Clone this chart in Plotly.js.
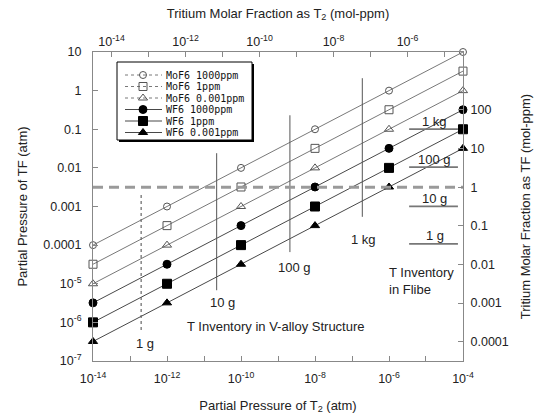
<!DOCTYPE html>
<html>
<head>
<meta charset="utf-8">
<script src="https://cdn.plot.ly/plotly-3.0.1.min.js"></script>
<style>html,body{margin:0;padding:0;background:#fff;}#chart{width:540px;height:418px;}</style>
</head>
<body>
<div id="chart"></div>
<script>
// ---- data ----
const pressureT2 = [1e-14, 1e-12, 1e-10, 1e-8, 1e-6, 1e-4];          // atm
const seriesNames = ['MoF6 1000ppm', 'MoF6 1ppm', 'MoF6 0.001ppm', 'WF6 1000ppm', 'WF6 1ppm', 'WF6 0.001ppm'];
const mof6_1000ppm = [1e-4, 1e-3, 1e-2, 1e-1, 1, 10];
const mof6_1ppm    = [3.2e-5, 3.2e-4, 3.2e-3, 3.2e-2, 0.32, 3.2];
const mof6_0001ppm = [1e-5, 1e-4, 1e-3, 1e-2, 0.1, 1];
const wf6_1000ppm  = [3.2e-6, 3.2e-5, 3.2e-4, 3.2e-3, 0.032, 0.32];
const wf6_1ppm     = [1e-6, 1e-5, 1e-4, 1e-3, 1e-2, 0.1];
const wf6_0001ppm  = [3.2e-7, 3.2e-6, 3.2e-5, 3.2e-4, 3.2e-3, 0.032];

// T inventory in V-alloy structure (vertical markers)
const vInvLabels = ['1 g', '10 g', '100 g', '1 kg'];
const vInvX      = [2.0e-13, 2.2e-11, 2.1e-9, 1.9e-7];
const vInvYTop   = [2.3e-3, 2.4e-2, 0.23, 2.1];
const vInvYBot   = [6.3e-7, 6.8e-6, 6.6e-5, 5.4e-4];

// T inventory in Flibe (horizontal markers, right axis)
const flibeLabels = ['1 kg', '100 g', '10 g', '1 g'];
const flibeLevels = [32, 3.3, 0.32, 0.034];
const flibeXRange = [3.5e-6, 7.3e-5];

// dashed limit (right axis, mol-ppm)
const limitLevel = 1;
const limitXRange = [1e-14, 1e-4];

// tick labels
const bottomTickVals = [1e-14,1e-12,1e-10,1e-8,1e-6,1e-4];
const bottomTickText = ['10<sup>-14</sup>','10<sup>-12</sup>','10<sup>-10</sup>','10<sup>-8</sup>','10<sup>-6</sup>','10<sup>-4</sup>'];
const bottomMinorVals = [1e-13,1e-11,1e-9,1e-7,1e-5];
const topTickVals = [1e-14,1e-12,1e-10,1e-8,1e-6];
const topTickText = ['10<sup>-14</sup>','10<sup>-12</sup>','10<sup>-10</sup>','10<sup>-8</sup>','10<sup>-6</sup>'];
const topMinorVals = [1e-13,1e-11,1e-9,1e-7,1e-5];
const leftTickVals = [10,1,0.1,0.01,0.001,1e-4,1e-5,1e-6,1e-7];
const leftTickText = ['10','1','0.1','0.01','0.001','0.0001','10<sup>-5</sup>','10<sup>-6</sup>','10<sup>-7</sup>'];
const rightTickVals = [100,10,1,0.1,0.01,0.001,1e-4];
const rightTickText = ['100','10','1','0.1','0.01','0.001','0.0001'];

// ---- styles ----
const seriesValues = [mof6_1000ppm, mof6_1ppm, mof6_0001ppm, wf6_1000ppm, wf6_1ppm, wf6_0001ppm];
const seriesStyle = [
  {symbol:'circle-open',        size:7, color:'#555', line:'#555', lw:0.8},
  {symbol:'square-open',        size:8, color:'#555', line:'#555', lw:0.8},
  {symbol:'triangle-up-open',   size:8, color:'#555', line:'#555', lw:0.8},
  {symbol:'circle',             size:8, color:'#000', line:'#333', lw:0.9},
  {symbol:'square',             size:9, color:'#000', line:'#333', lw:0.9},
  {symbol:'triangle-up',        size:8, color:'#000', line:'#333', lw:0.9}
];

// plot area in pixels (used for layout-only helpers)
const PL = 93, PR = 463, PT = 52, PB = 361;
const paperX = px => (px - PL) / (PR - PL);
const paperY = py => (PB - py) / (PB - PT);

const traces = [];

// main series
seriesValues.forEach((vals, i) => {
  const s = seriesStyle[i];
  traces.push({
    type:'scatter', mode:'lines+markers', name:seriesNames[i],
    x:pressureT2, y:vals, xaxis:'x', yaxis:'y',
    line:{color:s.line, width:s.lw},
    marker:{symbol:s.symbol, size:s.size, color:s.color, line:{color:s.color, width:1}},
    hoverinfo:'x+y+name', cliponaxis:false
  });
});

// vertical inventory lines
vInvLabels.forEach((lab, i) => {
  traces.push({
    type:'scatter', mode:'lines', name:'V-alloy '+lab,
    x:[vInvX[i], vInvX[i]], y:[vInvYBot[i], vInvYTop[i]], xaxis:'x', yaxis:'y',
    line:{color: i === 0 ? '#666' : '#555', width: i === 0 ? 1.2 : 1, dash: i === 0 ? 'dot' : 'solid'},
    hoverinfo:'skip'
  });
});

// dashed limit line on right axis
traces.push({
  type:'scatter', mode:'lines', name:'limit',
  x:limitXRange, y:[limitLevel, limitLevel], xaxis:'x', yaxis:'y2',
  line:{color:'#9a9a9a', width:3, dash:'10px,6px'}, hoverinfo:'skip'
});

// Flibe lines on right axis
flibeLabels.forEach((lab, i) => {
  traces.push({
    type:'scatter', mode:'lines', name:'Flibe '+lab,
    x:flibeXRange, y:[flibeLevels[i], flibeLevels[i]], xaxis:'x', yaxis:'y2',
    line:{color:'#777', width:1.8}, hoverinfo:'skip'
  });
});

// helper so the top axis gets drawn
traces.push({
  type:'scatter', mode:'markers', name:'top axis',
  x:topTickVals, y:topTickVals.map(() => 1), xaxis:'x2', yaxis:'y',
  marker:{opacity:0, size:1}, hoverinfo:'skip'
});

// custom legend samples on a pixel-space overlay axis
const legX0 = 125, legX1 = 162, legXM = 143, legText = 164;
const legRowY = [75, 86.5, 98, 109.5, 121, 132.5];
seriesNames.forEach((nm, i) => {
  const s = seriesStyle[i];
  traces.push({
    type:'scatter', mode:'lines', x:[legX0, legX1], y:[legRowY[i], legRowY[i]],
    xaxis:'x3', yaxis:'y3', line:{color:s.line, width:s.lw, dash: i < 3 ? 'dot' : 'solid'},
    hoverinfo:'skip', showlegend:false
  });
  traces.push({
    type:'scatter', mode:'markers', x:[legXM], y:[legRowY[i]],
    xaxis:'x3', yaxis:'y3',
    marker:{symbol:s.symbol, size:s.size, color:s.color, line:{color:s.color, width:1}},
    hoverinfo:'skip', showlegend:false
  });
});

const annotations = [];
// legend texts
seriesNames.forEach((nm, i) => {
  annotations.push({xref:'x3', yref:'y3', x:legText, y:legRowY[i], text:nm, showarrow:false,
    xanchor:'left', yanchor:'middle', font:{family:'DejaVu Sans Mono, monospace', size:10, color:'#111'}});
});
// vertical inventory labels
const vShiftY = [-13, -12, -15, -23];
const vShiftX = [4, 6, 5, 1];
vInvLabels.forEach((lab, i) => {
  annotations.push({xref:'x', yref:'y', x:Math.log10(vInvX[i]), y:Math.log10(vInvYBot[i]), text:lab,
    showarrow:false, xanchor:'center', yanchor:'middle', yshift:vShiftY[i], xshift:vShiftX[i],
    font:{size:13, color:'#222'}});
});
// Flibe labels
flibeLabels.forEach((lab, i) => {
  annotations.push({xref:'x', yref:'y2', x:(Math.log10(flibeXRange[0]) + Math.log10(flibeXRange[1])) / 2,
    y:Math.log10(flibeLevels[i]), text:lab, showarrow:false, xanchor:'center', yanchor:'middle',
    yshift:8, xshift:1, font:{size:13, color:'#222'}});
});
annotations.push({xref:'paper', yref:'paper', x:paperX(276), y:paperY(326), text:'T Inventory in V-alloy Structure',
  showarrow:false, xanchor:'center', yanchor:'middle', font:{size:13, color:'#222'}});
annotations.push({xref:'paper', yref:'paper', x:paperX(387), y:paperY(281), text:'T Inventory<br>in Flibe',
  showarrow:false, xanchor:'left', yanchor:'middle', align:'left', font:{size:13, color:'#222'}});

const axisCommon = {
  showgrid:false, zeroline:false, showline:true, linecolor:'#888', linewidth:1,
  ticks:'inside', ticklen:5, tickcolor:'#888', tickwidth:1,
  tickfont:{size:12.5, color:'#222'}
};
const minorCommon = {ticks:'inside', ticklen:5, tickcolor:'#888', tickwidth:1, showgrid:false, tickmode:'array'};

const layout = {
  width:540, height:418,
  margin:{l:PL, r:540-PR, t:PT, b:418-PB, pad:0},
  paper_bgcolor:'#fff', plot_bgcolor:'#fff',
  showlegend:false,
  font:{family:'Liberation Sans, Arial, sans-serif', size:12, color:'#222'},
  xaxis:Object.assign({}, axisCommon, {
    type:'log', range:[-14.0002, -3.9998], tickmode:'array', tickvals:bottomTickVals, ticktext:bottomTickText,
    minor:Object.assign({}, minorCommon, {tickvals:bottomMinorVals}),
    ticklabelstandoff:6,
    title:{text:'Partial Pressure of T<sub>2</sub> (atm)', font:{size:13, color:'#222'}, standoff:15}
  }),
  yaxis:Object.assign({}, axisCommon, {
    type:'log', range:[-7.0002, 1.0002], tickmode:'array', tickvals:leftTickVals, ticktext:leftTickText,
    ticklabelstandoff:8,
    title:{text:'Partial Pressure of TF (atm)', font:{size:13, color:'#222'}, standoff:12}
  }),
  xaxis2:Object.assign({}, axisCommon, {
    type:'log', range:[-14.5, -4.5], overlaying:'x', side:'top', anchor:'y',
    tickmode:'array', tickvals:topTickVals, ticktext:topTickText,
    minor:Object.assign({}, minorCommon, {tickvals:topMinorVals}),
    title:{text:'Tritium Molar Fraction as T<sub>2</sub> (mol-ppm)', font:{size:13, color:'#222'}, standoff:11}
  }),
  yaxis2:Object.assign({}, axisCommon, {
    type:'log', range:[-4.5, 3.5], overlaying:'y', side:'right', anchor:'x',
    tickmode:'array', tickvals:rightTickVals, ticktext:rightTickText, ticklabelstandoff:4,
    title:{text:'Tritium Molar Fraction as TF (mol-ppm)', font:{size:13, color:'#222'}, standoff:13}
  }),
  xaxis3:{overlaying:'x', anchor:'y3', range:[PL, PR], visible:false, fixedrange:true},
  yaxis3:{overlaying:'y', anchor:'x3', range:[PB, PT], visible:false, fixedrange:true},
  shapes:[
    {type:'rect', xref:'x3', yref:'y3', x0:119, x1:254, y0:64, y1:142, fillcolor:'#000', line:{width:0}, layer:'below'},
    {type:'rect', xref:'x3', yref:'y3', x0:117, x1:252, y0:62, y1:140, fillcolor:'#fff', line:{color:'#000', width:1}, layer:'below'}
  ],
  annotations:annotations
};

Plotly.newPlot('chart', traces, layout, {displayModeBar:false, staticPlot:true});
</script>
</body>
</html>
